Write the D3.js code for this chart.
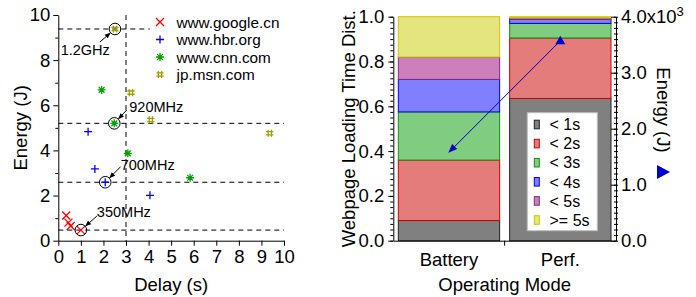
<!DOCTYPE html>
<html>
<head>
<meta charset="utf-8">
<script src="https://cdn.jsdelivr.net/npm/d3@7"></script>
<style>
  body { margin: 0; background: #fff; }
  svg { font-family: "Liberation Sans", Arial, sans-serif; }
</style>
</head>
<body>
<svg id="chart" width="696" height="297"></svg>
<script>
// ---- left panel: delay vs energy per site ----
var sites = ['www.google.cn', 'www.hbr.org', 'www.cnn.com', 'jp.msn.com'];
var googlePts = [[0.35, 1.12], [0.45, 0.80], [0.55, 0.65], [1.00, 0.47]];
var hbrPts = [[1.32, 4.83], [1.62, 3.18], [2.08, 2.59], [4.06, 2.01]];
var cnnPts = [[1.92, 6.68], [2.48, 5.20], [3.08, 3.87], [5.84, 2.79]];
var msnPts = [[2.51, 9.38], [3.22, 6.56], [4.10, 5.35], [9.37, 4.76]];
var freqLabels = ['350MHz', '700MHz', '920MHz', '1.2GHz'];
var highlightIdx = [3, 2, 1, 0];
var dashEndX = [10, 10, 10, 4.05];
var delayCut = 3.0;
var delayTicks = [0, 1, 2, 3, 4, 5, 6, 7, 8, 9, 10];
var energyTicks = [0, 2, 4, 6, 8, 10];

// ---- right panel: loading time distribution ----
var modes = ['Battery', 'Perf.'];
var bins = ['< 1s', '< 2s', '< 3s', '< 4s', '< 5s', '>= 5s'];
var batteryDist = [0.09, 0.27, 0.215, 0.145, 0.10, 0.18];
var perfDist = [0.635, 0.27, 0.065, 0.018, 0.007, 0.005];
var modeEnergy = [1580, 3570];
var distTicks = [0, 0.2, 0.4, 0.6, 0.8, 1.0];
var energyTicksR = [0, 1000, 2000, 3000, 4000];

var siteColors = ['#ff0000', '#0000ff', '#00a000', '#a0a000'];
var siteShapes = ['x', '+', '*', '#'];
var binFill = ['#808080', '#e57c7c', '#80cc80', '#8080ff', '#cc80bb', '#e5e580'];
var binStroke = ['#202020', '#cc0000', '#109010', '#0000ff', '#902080', '#c8c800'];

var svg = d3.select('#chart')
var FS = '18.5px'

svg.append('defs').append('marker')
    .attr('id', 'ah')
    .attr('viewBox', '0 0 10 10')
    .attr('refX', 9).attr('refY', 5)
    .attr('markerWidth', 6).attr('markerHeight', 6)
    .attr('markerUnits', 'userSpaceOnUse')
    .attr('orient', 'auto')
    .append('path').attr('d', 'M0,1 L10,5 L0,9 z').attr('fill', '#000')

svg.select('defs').append('marker')
    .attr('id', 'ahb')
    .attr('viewBox', '0 0 10 10')
    .attr('refX', 9).attr('refY', 5)
    .attr('markerWidth', 9).attr('markerHeight', 9)
    .attr('markerUnits', 'userSpaceOnUse')
    .attr('orient', 'auto')
    .append('path').attr('d', 'M0,1 L10,5 L0,9 z').attr('fill', '#0000cc')

function shapePath(t, s) {
    if (t == 'x') return 'M' + -s + ',' + -s + 'L' + s + ',' + s + 'M' + -s + ',' + s + 'L' + s + ',' + -s
    if (t == '+') return 'M' + -s + ',0H' + s + 'M0,' + -s + 'V' + s
    if (t == '*') {
        var k = s * 0.72
        return 'M' + -s + ',0H' + s + 'M0,' + -s + 'V' + s +
            'M' + -k + ',' + -k + 'L' + k + ',' + k + 'M' + -k + ',' + k + 'L' + k + ',' + -k
    }
    var a = s * 0.45
    return 'M' + -s + ',' + -a + 'H' + s + 'M' + -s + ',' + a + 'H' + s +
        'M' + -a + ',' + -s + 'V' + s + 'M' + a + ',' + -s + 'V' + s
}

// ================= left panel =================
var x = d3.scaleLinear().domain([0, 10]).range([58.3, 284])
var y = d3.scaleLinear().domain([0, 10]).range([240.7, 15])

var gL = svg.append('g')

gL.append('g')
    .attr('transform', 'translate(0,' + y(0) + ')')
    .call(d3.axisBottom(x).tickValues(delayTicks).tickSizeInner(5).tickSizeOuter(0).tickPadding(4).tickFormat(d3.format('d')))
gL.append('g')
    .attr('transform', 'translate(' + x(0) + ',0)')
    .call(d3.axisLeft(y).tickValues(energyTicks).tickSizeInner(5).tickSizeOuter(0).tickPadding(3).tickFormat(d3.format('d')))
gL.append('g')
    .attr('transform', 'translate(' + x(0) + ',0)')
    .call(d3.axisLeft(y).tickValues([1, 3, 5, 7, 9]).tickSize(3).tickFormat(''))
    .select('.domain').remove()

gL.selectAll('.tick text').style('font-size', FS).attr('fill', '#000')

var seriesPts = [googlePts, hbrPts, cnnPts, msnPts]

// dashed guide lines
seriesPts.forEach(function(pts, i) {
    var p = pts[highlightIdx[i]]
    gL.append('line')
        .attr('x1', x(0)).attr('x2', x(dashEndX[i]))
        .attr('y1', y(p[1])).attr('y2', y(p[1]))
        .attr('stroke', '#000').attr('stroke-dasharray', '5,4')
})
gL.append('line')
    .attr('x1', x(delayCut)).attr('x2', x(delayCut))
    .attr('y1', y(10)).attr('y2', y(0))
    .attr('stroke', '#000').attr('stroke-dasharray', '5,4')

// points
seriesPts.forEach(function(pts, i) {
    gL.selectAll(null)
        .data(pts)
        .enter()
        .append('path')
        .attr('transform', function(d) { return 'translate(' + x(d[0]) + ',' + y(d[1]) + ')' })
        .attr('d', shapePath(siteShapes[i], siteShapes[i] == '#' ? 3.6 : 4))
        .attr('fill', 'none')
        .attr('stroke', siteColors[i])
        .attr('stroke-width', 1.3)
})

// circles + frequency annotations
var annText = [[16, -13], [15.4, -12.3], [15, -11.6], [-54.3, 26]]
var annFrom = [[16, -14], [15.4, -15.6], [12.4, -13.3], [-15, 13]]
seriesPts.forEach(function(pts, i) {
    var p = pts[highlightIdx[i]]
    var cx = x(p[0]), cy = y(p[1])
    gL.append('circle')
        .attr('cx', cx).attr('cy', cy).attr('r', 5.8)
        .attr('fill', 'none').attr('stroke', '#000')
    var fx = cx + annFrom[i][0], fy = cy + annFrom[i][1]
    var len = Math.hypot(fx - cx, fy - cy)
    var ex = cx + (fx - cx) * 6.3 / len, ey = cy + (fy - cy) * 6.3 / len
    gL.append('line')
        .attr('x1', fx).attr('y1', fy).attr('x2', ex).attr('y2', ey)
        .attr('stroke', '#000').attr('marker-end', 'url(#ah)')
    gL.append('text')
        .attr('x', cx + annText[i][0]).attr('y', cy + annText[i][1])
        .style('font-size', '14.5px')
        .text(freqLabels[i])
})

// legend
sites.forEach(function(s, i) {
    var ly = 22 + i * 17.5
    gL.append('path')
        .attr('transform', 'translate(160,' + ly + ')')
        .attr('d', shapePath(siteShapes[i], siteShapes[i] == '#' ? 3.6 : 4))
        .attr('fill', 'none').attr('stroke', siteColors[i]).attr('stroke-width', 1.3)
    gL.append('text')
        .attr('x', 176.5).attr('y', ly).attr('dy', '0.36em')
        .style('font-size', '15.3px')
        .text(s)
})

gL.append('text')
    .attr('x', x(5)).attr('y', 291)
    .attr('text-anchor', 'middle')
    .style('font-size', FS)
    .text('Delay (s)')
gL.append('text')
    .attr('transform', 'translate(27,' + y(5) + ') rotate(-90)')
    .attr('text-anchor', 'middle')
    .style('font-size', FS)
    .text('Energy (J)')

// ================= right panel =================
var xb = d3.scaleBand().domain(modes).range([393.3, 616]).paddingInner(0.09).paddingOuter(0.045)
var yd = d3.scaleLinear().domain([0, 1]).range([240.7, 16.7])
var ye = d3.scaleLinear().domain([0, 4000]).range([240.7, 16.7])

var gR = svg.append('g')

var rows = modes.map(function(m, i) {
    var r = {mode: m}
    var dist = i == 0 ? batteryDist : perfDist
    bins.forEach(function(b, j) { r[b] = dist[j] })
    return r
})
var stacked = d3.stack().keys(bins)(rows)

stacked.forEach(function(layer, j) {
    gR.selectAll(null)
        .data(layer)
        .enter()
        .append('rect')
        .attr('x', function(d) { return xb(d.data.mode) })
        .attr('width', xb.bandwidth())
        .attr('y', function(d) { return yd(d[1]) })
        .attr('height', function(d) { return yd(d[0]) - yd(d[1]) })
        .attr('fill', binFill[j])
        .attr('stroke', binStroke[j])
        .attr('stroke-width', 1)
})

// axes
gR.append('g')
    .attr('transform', 'translate(0,' + yd(0) + ')')
    .call(d3.axisBottom(xb).tickSize(0).tickPadding(12))
    .call(function(g) {
        g.selectAll('.tick text').style('font-size', FS).attr('fill', '#000')
    })
gR.append('line')
    .attr('x1', xb.range()[0] + xb.step() * (1 + xb.paddingOuter()) - xb.step() * xb.paddingInner() / 2)
    .attr('x2', xb.range()[0] + xb.step() * (1 + xb.paddingOuter()) - xb.step() * xb.paddingInner() / 2)
    .attr('y1', yd(0)).attr('y2', yd(0) + 5)
    .attr('stroke', '#000')

gR.append('g')
    .attr('transform', 'translate(393.3,0)')
    .call(d3.axisLeft(yd).tickValues(distTicks).tickSizeInner(5).tickSizeOuter(0).tickPadding(4).tickFormat(d3.format('.1f')))
    .call(function(g) {
        g.selectAll('.tick text').style('font-size', FS).attr('fill', '#000')
    })
gR.append('g')
    .attr('transform', 'translate(393.3,0)')
    .call(d3.axisLeft(yd).tickValues(d3.range(0, 1.001, 0.025)).tickSize(3).tickFormat(''))
    .select('.domain').remove()

var rAxis = gR.append('g')
    .attr('transform', 'translate(616,0)')
    .call(d3.axisRight(ye).tickValues(energyTicksR).tickSizeInner(-5).tickSizeOuter(0).tickPadding(5)
        .tickFormat(function(d) { return (d / 1000).toFixed(1) }))
rAxis.selectAll('.tick text').style('font-size', FS).attr('fill', '#000')
rAxis.selectAll('.tick text')
    .filter(function(d) { return d == 4000 })
    .text('4.0x10')
    .append('tspan')
    .attr('dy', '-0.55em')
    .style('font-size', '13px')
    .text('3')
gR.append('g')
    .attr('transform', 'translate(618,0)')
    .call(d3.axisLeft(ye).tickValues(d3.range(0, 4001, 100)).tickSize(4).tickFormat(''))
    .select('.domain').remove()

// energy line
var ePts = modes.map(function(m, i) { return [xb(m) + xb.bandwidth() / 2, ye(modeEnergy[i])] })
gR.append('line')
    .attr('x1', ePts[1][0]).attr('y1', ePts[1][1])
    .attr('x2', ePts[0][0]).attr('y2', ePts[0][1])
    .attr('stroke', '#0000cc').attr('stroke-width', 1)
    .attr('marker-end', 'url(#ahb)')
gR.append('path')
    .attr('transform', 'translate(' + ePts[1][0] + ',' + ePts[1][1] + ')')
    .attr('d', 'M0,-5L5,3.5L-5,3.5Z')
    .attr('fill', '#0000cc')

// legend inside Perf bar
var lg = gR.append('g')
lg.append('rect')
    .attr('x', 527.3).attr('y', 112.7).attr('width', 70).attr('height', 118)
    .attr('fill', '#fff').attr('stroke', '#bdbdbd').attr('stroke-width', 1)
bins.forEach(function(b, j) {
    var ly = 124.5 + j * 19.1
    lg.append('rect')
        .attr('x', 534.3).attr('y', ly - 4.3).attr('width', 5).attr('height', 8.6)
        .attr('fill', binFill[j]).attr('stroke', binStroke[j])
    lg.append('text')
        .attr('x', 549.5).attr('y', ly).attr('dy', '0.36em')
        .style('font-size', '16px')
        .text(b)
})

gR.append('text')
    .attr('x', (xb.range()[0] + xb.range()[1]) / 2).attr('y', 291)
    .attr('text-anchor', 'middle')
    .style('font-size', FS)
    .text('Operating Mode')
gR.append('text')
    .attr('transform', 'translate(355,' + yd(0.5) + ') rotate(-90)')
    .attr('text-anchor', 'middle')
    .style('font-size', FS)
    .text('Webpage Loading Time Dist.')
gR.append('text')
    .attr('transform', 'translate(657,110) rotate(90)')
    .attr('text-anchor', 'middle')
    .style('font-size', FS)
    .text('Energy (J)')
gR.append('path')
    .attr('transform', 'translate(663,172)')
    .attr('d', 'M-6,-7L7,0L-6,7Z')
    .attr('fill', '#0000cc')
</script>
</body>
</html>
